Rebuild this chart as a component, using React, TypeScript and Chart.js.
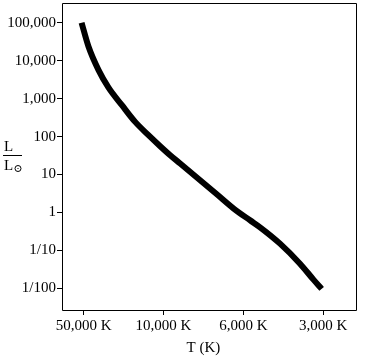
import React, { useEffect, useRef } from "react";
import { Chart, registerables } from "chart.js";

Chart.register(...registerables);

// x position index: 0 = 50,000 K, 1 = 10,000 K, 2 = 6,000 K, 3 = 3,000 K
const curveX = [-0.025, 0.0625, 0.1875, 0.3125, 0.48, 0.646, 0.8125, 0.959, 1.084, 1.209, 1.459, 1.668, 1.875, 2.084, 2.209, 2.459, 2.709, 2.875, 2.98];
const curveL = [100000, 23300, 5650, 1950, 673, 244, 109, 55.8, 32.3, 19.5, 7.08, 3.02, 1.29, 0.622, 0.407, 0.151, 0.0448, 0.0173, 0.0097];

const xTickPositions = [0, 1, 2, 3];
const xTickLabels = ["50,000 K", "10,000 K", "6,000 K", "3,000 K"];

const yTickValues = [100000, 10000, 1000, 100, 10, 1, 0.1, 0.01];
const yTickLabels = ["100,000", "10,000", "1,000", "100", "10", "1", "1/10", "1/100"];

const FONT = "'Liberation Serif', 'DejaVu Serif', serif";

export default function App() {
  const ref = useRef<HTMLCanvasElement | null>(null);

  useEffect(() => {
    document.body.style.margin = "0";
    const canvas = ref.current;
    if (!canvas) return;

    const framePlugin = {
      id: "frameAndLabels",
      afterDraw(chart: any) {
        const { ctx, chartArea } = chart;
        ctx.save();
        ctx.strokeStyle = "#000";
        ctx.lineWidth = 1;
        const l = Math.round(chartArea.left) + 0.5;
        const t = Math.round(chartArea.top) + 0.5;
        const r = Math.round(chartArea.right) + 0.5;
        const b = Math.round(chartArea.bottom) + 0.5;
        ctx.beginPath();
        ctx.moveTo(l, t);
        ctx.lineTo(r, t);
        ctx.lineTo(r, b);
        ctx.lineTo(l, b);
        ctx.closePath();
        ctx.stroke();

        ctx.fillStyle = "#000";
        ctx.font = `15px ${FONT}`;
        // x title
        const xs = chart.scales.x;
        const cx = (xs.getPixelForValue(0) + xs.getPixelForValue(3)) / 2;
        ctx.textAlign = "center";
        ctx.textBaseline = "alphabetic";
        ctx.fillText("T (K)", cx, 352);

        // y title as fraction L / L_sun
        ctx.textAlign = "left";
        ctx.fillText("L", 4, 151);
        ctx.beginPath();
        ctx.moveTo(3, 155.5);
        ctx.lineTo(22, 155.5);
        ctx.stroke();
        ctx.fillText("L", 4, 170);
        // sun symbol
        ctx.beginPath();
        ctx.arc(18, 168.5, 3, 0, Math.PI * 2);
        ctx.stroke();
        ctx.fillRect(17.5, 168, 1, 1);
        ctx.restore();
      },
    };

    const chart = new Chart(canvas, {
      type: "line",
      data: {
        datasets: [
          {
            data: curveX.map((x, i) => ({ x, y: curveL[i] })),
            borderColor: "#000",
            borderWidth: 6,
            pointRadius: 0,
            cubicInterpolationMode: "monotone",
            borderCapStyle: "butt",
            fill: false,
          },
        ],
      },
      options: {
        animation: false,
        responsive: false,
        devicePixelRatio: 1,
        layout: { padding: { top: 3, right: 10, left: 0, bottom: 0 } },
        plugins: { legend: { display: false }, tooltip: { enabled: false } },
        scales: {
          x: {
            type: "linear",
            min: -0.27,
            max: 3.41,
            afterBuildTicks: (scale: any) => {
              scale.ticks = xTickPositions.map((v) => ({ value: v }));
            },
            afterFit: (scale: any) => {
              scale.height = 54;
              scale.paddingLeft = 0;
              scale.paddingRight = 0;
            },
            ticks: {
              color: "#000",
              font: { family: FONT, size: 15 },
              padding: 2,
              maxRotation: 0,
              autoSkip: false,
              callback: (v: any) => {
                const i = xTickPositions.indexOf(Number(v));
                return i >= 0 ? xTickLabels[i] : "";
              },
            },
            grid: { drawOnChartArea: false, tickLength: 5, color: "#000", tickColor: "#000" },
            border: { display: false },
          },
          y: {
            type: "logarithmic",
            min: Math.pow(10, -2.57),
            max: Math.pow(10, 5.52),
            afterBuildTicks: (scale: any) => {
              scale.ticks = yTickValues.map((v) => ({ value: v }));
            },
            afterFit: (scale: any) => {
              scale.width = 62;
              scale.paddingTop = 0;
              scale.paddingBottom = 0;
            },
            ticks: {
              color: "#000",
              font: { family: FONT, size: 15 },
              padding: 1,
              autoSkip: false,
              callback: (v: any) => {
                const i = yTickValues.findIndex((t) => Math.abs(t - Number(v)) / t < 1e-6);
                return i >= 0 ? yTickLabels[i] : "";
              },
            },
            grid: { drawOnChartArea: false, tickLength: 5, color: "#000", tickColor: "#000" },
            border: { display: false },
          },
        },
      },
      plugins: [framePlugin],
    } as any);

    return () => chart.destroy();
  }, []);

  return (
    <div style={{ width: 366, height: 364, background: "#fff" }}>
      <canvas ref={ref} width={366} height={364} style={{ display: "block" }} />
    </div>
  );
}
